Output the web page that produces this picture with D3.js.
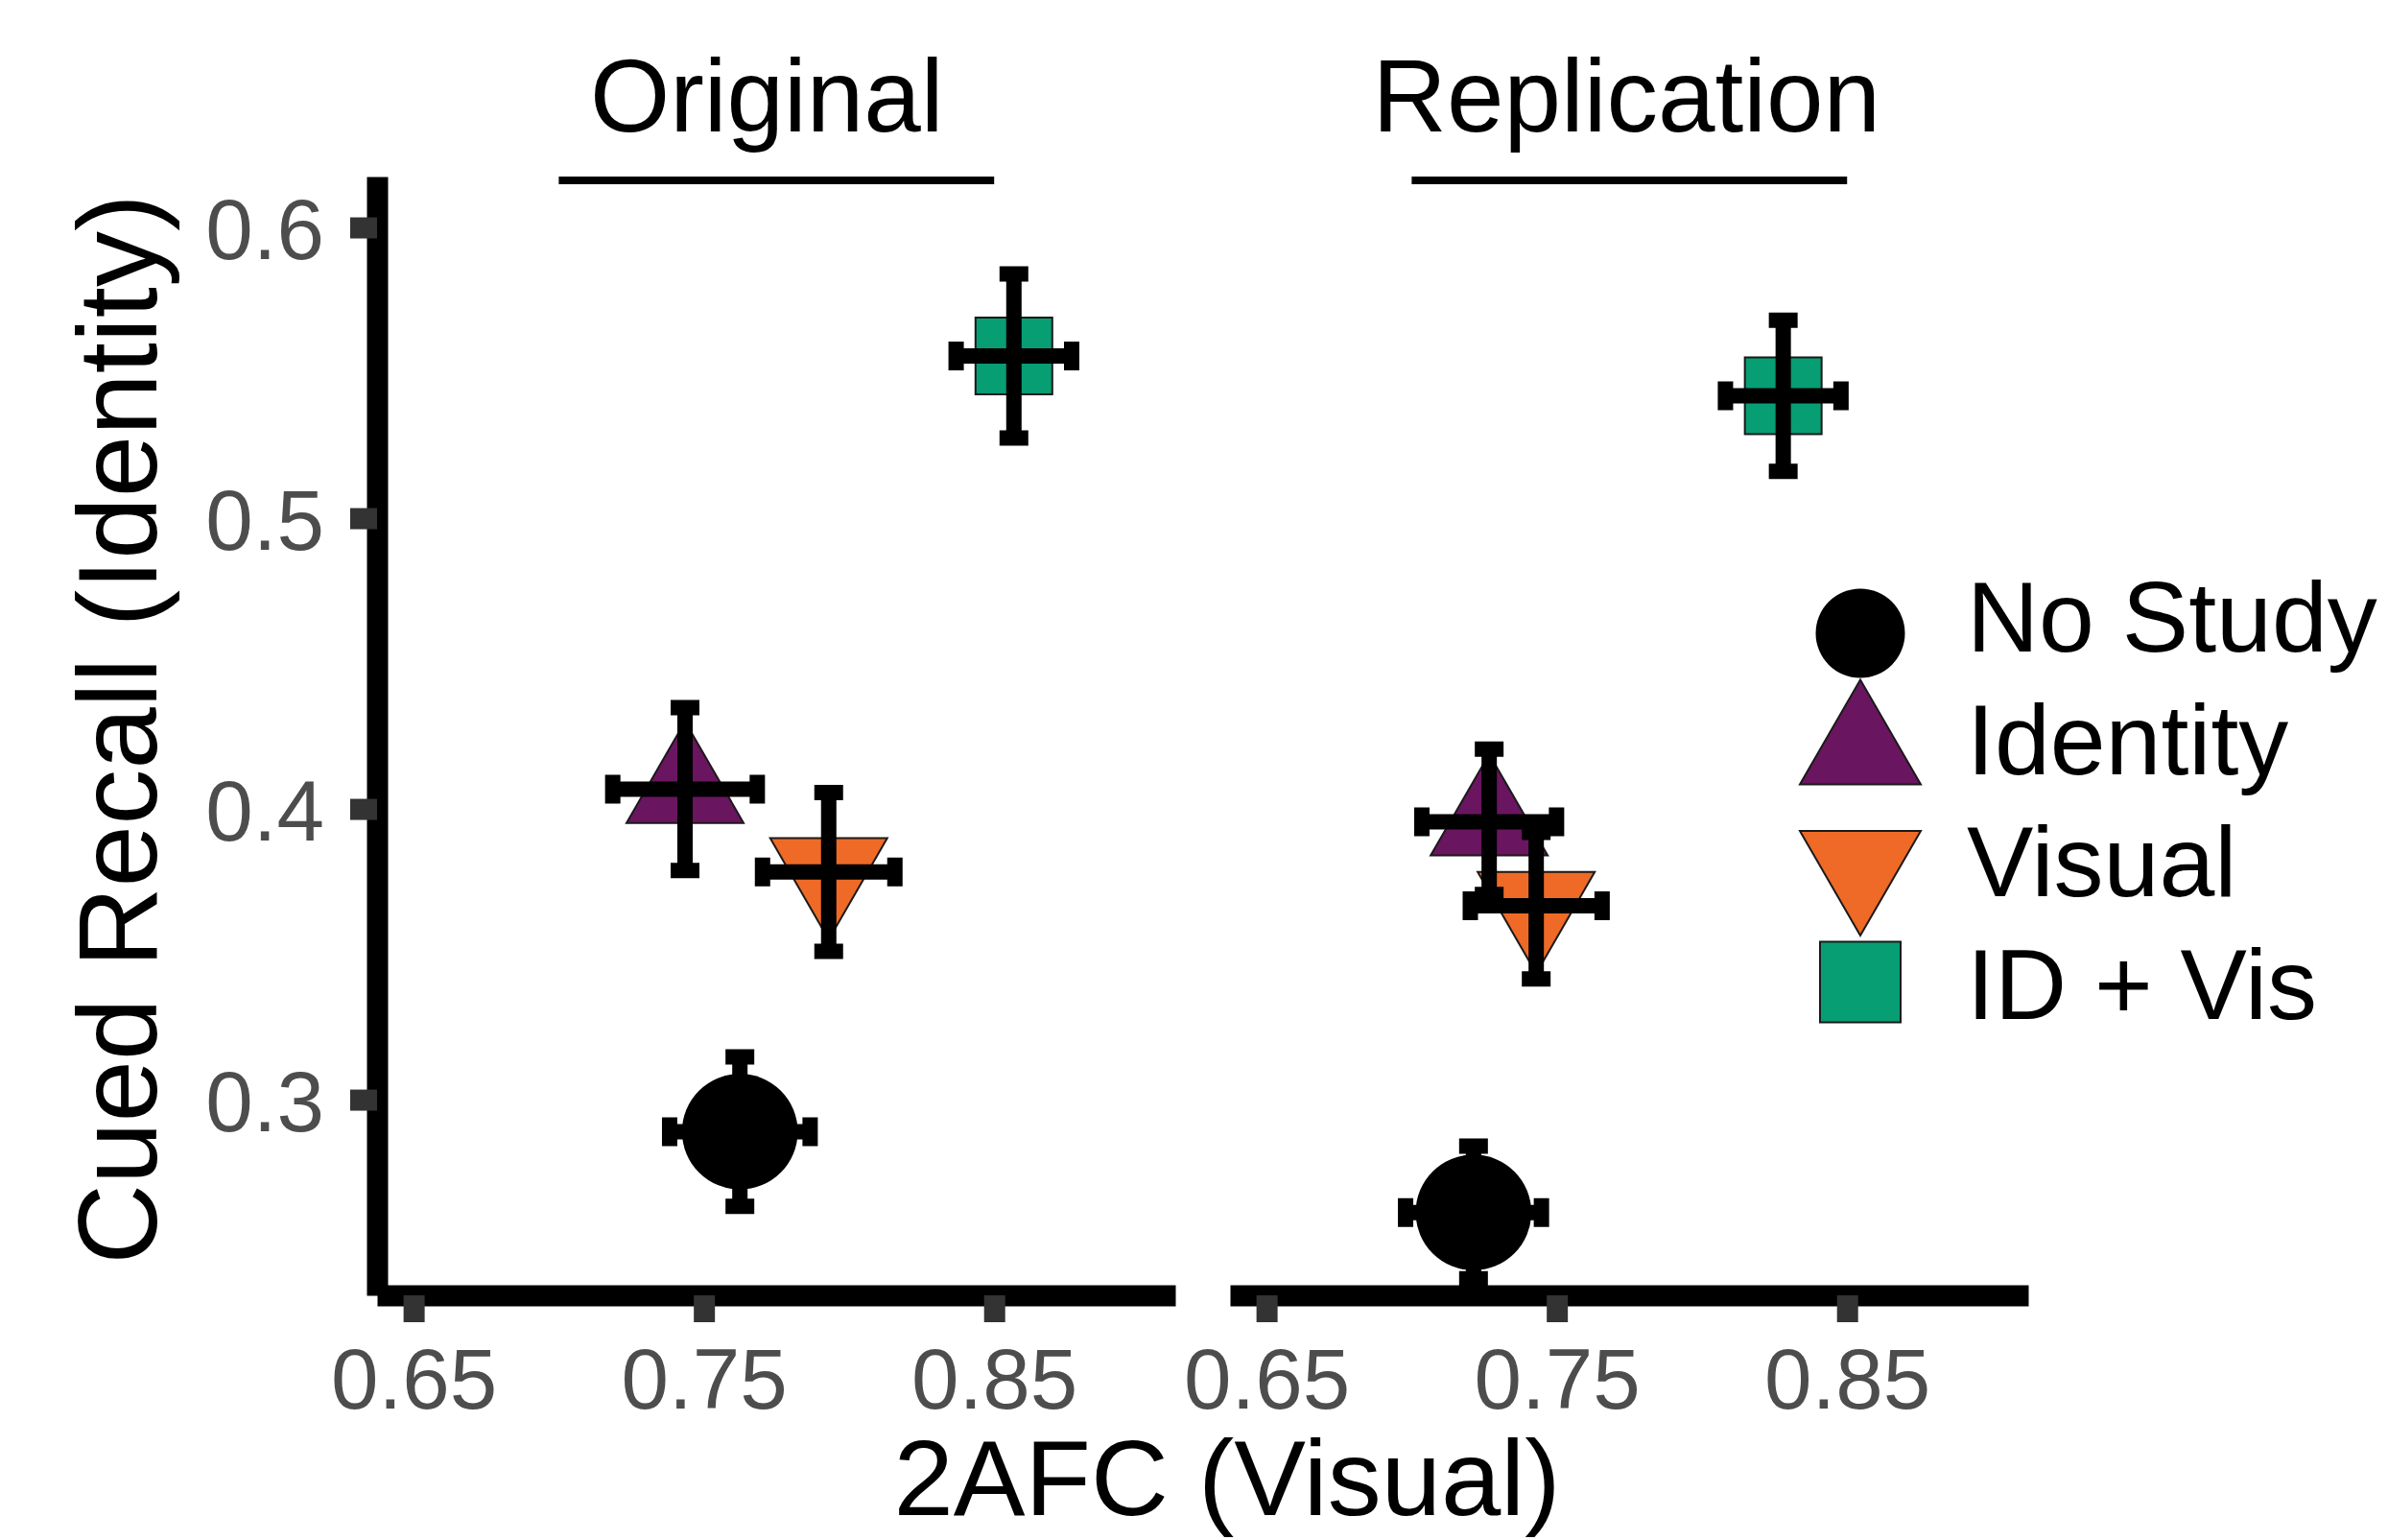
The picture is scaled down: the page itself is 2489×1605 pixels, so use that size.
<!DOCTYPE html>
<html>
<head>
<meta charset="utf-8">
<script src="https://cdn.jsdelivr.net/npm/d3@7"></script>
<style>
  body { margin: 0; background: #fff; }
  svg { display: block; }
  text { font-family: "Liberation Sans", Arial, sans-serif; }
</style>
</head>
<body>
<svg id="chart"></svg>
<script>
// data
const categories = ["No Study", "Identity", "Visual", "ID + Vis"];
const panels = ["Original", "Replication"];

// 2AFC (visual) means and error bars, category order
const origX = [0.7624, 0.7435, 0.7930, 0.8568];
const origXErr = [0.0242, 0.0249, 0.0228, 0.0199];
const repX = [0.7213, 0.7267, 0.7429, 0.8280];
const repXErr = [0.0234, 0.0232, 0.0227, 0.0199];

// cued recall (identity) means and error bars
const origY = [0.2890, 0.4068, 0.3783, 0.5558];
const origYErr = [0.0257, 0.0280, 0.0273, 0.0282];
const repY = [0.2612, 0.3956, 0.3667, 0.5421];
const repYErr = [0.0228, 0.0250, 0.0252, 0.0260];

const xTicks = [0.65, 0.75, 0.85];
const yTicks = [0.3, 0.4, 0.5, 0.6];
const stripRange = [0.70, 0.85];

// styles
const fills = { "No Study": "#000000", "Identity": "#6A1560", "Visual": "#EE6A26", "ID + Vis": "#079E74" };
const shapes = { "No Study": "circle", "Identity": "up", "Visual": "down", "ID + Vis": "square" };

const width = 2489, height = 1605;
const panelTop = 184, panelBottom = 1350, panelW = 832;
const panelLeft = [393, 1282];
const titleShift = [-10, -3];
const font = '"Liberation Sans", Arial, sans-serif';

const svg = d3.select("#chart")
    .attr("width", width)
    .attr("height", height);

svg.append("rect").attr("width", width).attr("height", height).attr("fill", "#fff");

const y = d3.scaleLinear()
    .domain([0.2327, 0.6175])
    .range([panelBottom, panelTop]);

const xs = panels.map((p, i) => d3.scaleLinear()
    .domain([0.6374, 0.9124])
    .range([panelLeft[i], panelLeft[i] + panelW]));

const panelData = [
    categories.map((c, i) => ({ cat: c, x: origX[i], xe: origXErr[i], y: origY[i], ye: origYErr[i] })),
    categories.map((c, i) => ({ cat: c, x: repX[i], xe: repXErr[i], y: repY[i], ye: repYErr[i] }))
];

// triangle centred on its centroid
const triPath = (side, up) => {
    const h = side * Math.sqrt(3) / 2;
    const s = up ? 1 : -1;
    return `M0,${-s * 2 * h / 3}L${side / 2},${s * h / 3}L${-side / 2},${s * h / 3}Z`;
};

const drawShape = (g, cat, sz) => {
    const kind = shapes[cat];
    if (kind === "circle") {
        g.append("circle").attr("r", sz.r).attr("fill", fills[cat]);
    } else if (kind === "square") {
        g.append("rect")
            .attr("x", -sz.sq / 2).attr("y", -sz.sq / 2)
            .attr("width", sz.sq).attr("height", sz.sq)
            .attr("fill", fills[cat]).attr("stroke", "#1a1a1a").attr("stroke-width", 2);
    } else {
        g.append("path")
            .attr("d", triPath(sz.tri, kind === "up"))
            .attr("fill", fills[cat]).attr("stroke", "#1a1a1a").attr("stroke-width", 2);
    }
};

const plotSize = { r: 60.3, sq: 80, tri: 122 };
const legendSize = { r: 46.5, sq: 84, tri: 126 };
const cap = 30;

panels.forEach((p, pi) => {
    const x = xs[pi];
    const data = panelData[pi];
    const g = svg.append("g").attr("class", "panel-" + p);

    // points
    data.forEach(d => {
        const pg = g.append("g").attr("transform", `translate(${x(d.x)},${y(d.y)})`);
        drawShape(pg, d.cat, plotSize);
    });

    // error bars on top of points
    const eb = g.append("g").attr("stroke", "#000").attr("stroke-width", 16).attr("fill", "none");
    data.forEach(d => {
        const cx = x(d.x), cy = y(d.y);
        const y0 = y(d.y - d.ye), y1 = y(d.y + d.ye);
        const x0 = x(d.x - d.xe), x1 = x(d.x + d.xe);
        eb.append("path").attr("d",
            `M${cx - cap / 2},${y1}H${cx + cap / 2}M${cx},${y1}V${y0}M${cx - cap / 2},${y0}H${cx + cap / 2}`);
        eb.append("path").attr("d",
            `M${x0},${cy - cap / 2}V${cy + cap / 2}M${x0},${cy}H${x1}M${x1},${cy - cap / 2}V${cy + cap / 2}`);
    });

    // x axis
    const ax = svg.append("g")
        .attr("transform", `translate(0,${panelBottom})`)
        .call(d3.axisBottom(x).tickValues(xTicks).tickFormat(d3.format(".2f"))
            .tickSize(28).tickSizeOuter(0).tickPadding(27));
    ax.select(".domain").attr("stroke", "#000").attr("stroke-width", 22).attr("stroke-linecap", "butt");
    ax.selectAll(".tick line").attr("stroke", "#333333").attr("stroke-width", 22);
    ax.selectAll(".tick text").attr("fill", "#4D4D4D").attr("font-size", 89).attr("font-family", font);

    // strip title with underline
    const mid = (stripRange[0] + stripRange[1]) / 2;
    svg.append("text")
        .attr("x", x(mid) + titleShift[pi]).attr("y", 137)
        .attr("text-anchor", "middle")
        .attr("font-size", 107)
        .attr("fill", "#000")
        .text(p);
    svg.append("line")
        .attr("x1", x(stripRange[0])).attr("x2", x(stripRange[1]))
        .attr("y1", 188).attr("y2", 188)
        .attr("stroke", "#000").attr("stroke-width", 8);
});

// y axis on the first panel only
const ay = svg.append("g")
    .attr("transform", `translate(${panelLeft[0]},0)`)
    .call(d3.axisLeft(y).tickValues(yTicks).tickFormat(d3.format(".1f"))
        .tickSize(28).tickSizeOuter(0).tickPadding(27));
ay.select(".domain").attr("stroke", "#000").attr("stroke-width", 22).attr("stroke-linecap", "butt");
ay.selectAll(".tick line").attr("stroke", "#333333").attr("stroke-width", 22);
ay.selectAll(".tick text").attr("fill", "#4D4D4D").attr("font-size", 89).attr("font-family", font).attr("dy", "0.36em");

// axis titles
svg.append("text")
    .attr("x", 1279).attr("y", 1579)
    .attr("text-anchor", "middle")
    .attr("font-size", 112)
    .text("2AFC (Visual)");

svg.append("text")
    .attr("transform", "translate(163,760) rotate(-90)")
    .attr("text-anchor", "middle")
    .attr("font-size", 116)
    .text("Cued Recall (Identity)");

// legend
const keyY = d3.scalePoint().domain(categories).range([660, 1023.5]);
const labelY = d3.scalePoint().domain(categories).range([679, 1062]);
const legend = svg.append("g").attr("class", "legend");
categories.forEach(c => {
    const kg = legend.append("g").attr("transform", `translate(1939,${keyY(c)})`);
    drawShape(kg, c, legendSize);
    legend.append("text")
        .attr("x", 2050).attr("y", labelY(c))
        .attr("font-size", 104)
        .text(c);
});
</script>
</body>
</html>
